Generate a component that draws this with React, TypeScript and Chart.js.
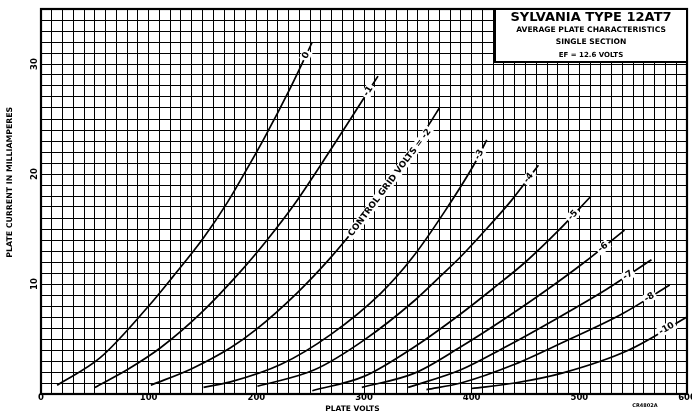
import React, { useEffect, useRef } from 'react';
import { Chart, registerables } from 'chart.js';

Chart.register(...registerables);

// ---- data (plate volts, plate current mA) ----
const xTicks = [0, 100, 200, 300, 400, 500, 600];
const yTicks = [10, 20, 30];

const gridBiasLabels = ['0', '-1', 'CONTROL GRID VOLTS = -2', '-3', '-4', '-5', '-6', '-7', '-8', '-10'];
const labelAtVolts = [246, 304, 324, 407, 453, 494, 522, 545, 565, 581];

const voltsG0 = [15, 55, 100, 122, 151, 173, 188, 207, 232, 252];
const mAG0 = [0.8, 3.3, 8.0, 10.6, 14.2, 17.4, 19.9, 23.2, 27.9, 32.0];
const voltsG1 = [50, 80, 111, 148, 185, 210, 235, 269, 294, 313];
const mAG1 = [0.6, 2.2, 4.2, 7.3, 11.1, 14.0, 17.2, 22.2, 26.0, 28.9];
const voltsG2 = [102, 140, 176, 199, 238, 269, 297, 330, 361, 370];
const mAG2 = [0.8, 2.3, 4.2, 5.8, 9.2, 12.4, 15.7, 20.0, 24.6, 26.0];
const voltsG3 = [151, 176, 223, 269, 316, 345, 375, 403, 414];
const mAG3 = [0.6, 1.1, 2.7, 5.4, 9.2, 12.4, 16.6, 21.0, 23.1];
const voltsG4 = [201, 254, 300, 347, 372, 390, 409, 437, 462];
const mAG4 = [0.7, 2.2, 4.9, 8.5, 10.8, 12.5, 14.5, 17.6, 20.8];
const voltsG5 = [252, 300, 347, 390, 420, 450, 480, 511];
const mAG5 = [0.3, 1.6, 4.3, 7.3, 9.6, 12.0, 14.8, 18.0];
const voltsG6 = [298, 347, 390, 430, 466, 505, 542];
const mAG6 = [0.6, 1.9, 4.3, 6.8, 9.2, 12.0, 14.9];
const voltsG7 = [341, 390, 430, 478, 525, 567];
const mAG7 = [0.6, 2.2, 4.2, 6.8, 9.5, 12.2];
const voltsG8 = [358, 390, 440, 487, 540, 584];
const mAG8 = [0.4, 1.0, 2.7, 4.8, 7.3, 9.9];
const voltsG10 = [400, 440, 484, 546, 600];
const mAG10 = [0.5, 1.0, 1.9, 4.0, 7.0];

const curveVolts = [voltsG0, voltsG1, voltsG2, voltsG3, voltsG4, voltsG5, voltsG6, voltsG7, voltsG8, voltsG10];
const curveMA = [mAG0, mAG1, mAG2, mAG3, mAG4, mAG5, mAG6, mAG7, mAG8, mAG10];

const titleLines = ['SYLVANIA TYPE 12AT7', 'AVERAGE PLATE CHARACTERISTICS', 'SINGLE SECTION', 'EF = 12.6 VOLTS'];
const xTitle = 'PLATE VOLTS';
const yTitle = 'PLATE CURRENT IN MILLIAMPERES';
const drawingNo = 'CR4802A';

const FONT = '"DejaVu Sans", "Liberation Sans", sans-serif';

function interp(xs: number[], ys: number[], v: number): number {
  if (v <= xs[0]) return ys[0];
  for (let i = 1; i < xs.length; i++) {
    if (v <= xs[i]) {
      const t = (v - xs[i - 1]) / (xs[i] - xs[i - 1]);
      return ys[i - 1] + t * (ys[i] - ys[i - 1]);
    }
  }
  return ys[ys.length - 1];
}

const overlayPlugin = {
  id: 'overlay',
  afterDraw(chart: any) {
    const { ctx, chartArea: a, scales } = chart;
    const xs = scales.x;
    const ys = scales.y;
    ctx.save();

    // frame
    ctx.strokeStyle = '#000';
    ctx.lineWidth = 2.2;
    ctx.strokeRect(a.left, a.top, a.right - a.left, a.bottom - a.top);

    ctx.fillStyle = '#000';
    // x tick labels
    ctx.font = `bold 8.5px ${FONT}`;
    ctx.textAlign = 'center';
    ctx.textBaseline = 'middle';
    xTicks.forEach((v) => {
      const px = xs.getPixelForValue(v);
      ctx.fillText(String(v), px, a.bottom + 4);
    });
    // y tick labels (rotated)
    yTicks.forEach((v) => {
      const py = ys.getPixelForValue(v);
      ctx.save();
      ctx.translate(a.left - 6, py);
      ctx.rotate(-Math.PI / 2);
      ctx.fillText(String(v), 0, 0);
      ctx.restore();
    });

    // axis titles
    ctx.font = `bold 7.5px ${FONT}`;
    ctx.fillText(xTitle, a.left + (a.right - a.left) * 0.482, a.bottom + 15);
    ctx.save();
    ctx.translate(10, a.top + (a.bottom - a.top) * 0.45);
    ctx.rotate(-Math.PI / 2);
    ctx.font = `bold 7.8px ${FONT}`;
    ctx.fillText(yTitle, 0, 0);
    ctx.restore();
    ctx.font = `bold 5px ${FONT}`;
    ctx.fillText(drawingNo, a.right - 42, a.bottom + 12);

    // title box
    const bx = a.right - 192;
    const by = a.top;
    const bw = 192;
    const bh = 53;
    ctx.fillStyle = '#fff';
    ctx.fillRect(bx, by, bw, bh);
    ctx.strokeStyle = '#000';
    ctx.lineWidth = 2;
    ctx.strokeRect(bx, by, bw, bh);
    ctx.fillStyle = '#000';
    const cx = bx + bw / 2;
    ctx.font = `bold 13px ${FONT}`;
    ctx.fillText(titleLines[0], cx, by + 9);
    ctx.font = `bold 7.6px ${FONT}`;
    ctx.fillText(titleLines[1], cx, by + 21);
    ctx.fillText(titleLines[2], cx, by + 33);
    ctx.font = `bold 7px ${FONT}`;
    ctx.fillText(titleLines[3], cx, by + 46);

    // curve labels
    gridBiasLabels.forEach((txt, i) => {
      const vx = curveVolts[i];
      const vy = curveMA[i];
      const v = labelAtVolts[i];
      const px = xs.getPixelForValue(v);
      const py = ys.getPixelForValue(interp(vx, vy, v));
      const p1x = xs.getPixelForValue(v - 4);
      const p1y = ys.getPixelForValue(interp(vx, vy, v - 4));
      const p2x = xs.getPixelForValue(v + 4);
      const p2y = ys.getPixelForValue(interp(vx, vy, v + 4));
      const ang = Math.atan2(p2y - p1y, p2x - p1x);
      ctx.save();
      ctx.translate(px, py);
      ctx.rotate(ang);
      ctx.font = `bold ${i === 2 ? 8.8 : 9}px ${FONT}`;
      const w = ctx.measureText(txt).width;
      ctx.fillStyle = '#fff';
      ctx.fillRect(-w / 2 - 2, -5, w + 4, 10);
      ctx.fillStyle = '#000';
      ctx.fillText(txt, 0, 0);
      ctx.restore();
    });

    ctx.restore();
  },
};

export default function App() {
  const ref = useRef<HTMLCanvasElement | null>(null);

  useEffect(() => {
    if (!ref.current) return;
    const datasets = curveVolts.map((vs, i) => ({
      label: gridBiasLabels[i],
      data: vs.map((v, k) => ({ x: v, y: curveMA[i][k] })),
      borderColor: '#000',
      borderWidth: 1.7,
      pointRadius: 0,
      fill: false,
      cubicInterpolationMode: 'monotone' as const,
    }));
    const chart = new Chart(ref.current, {
      type: 'line',
      data: { datasets },
      options: {
        animation: false,
        responsive: false,
        devicePixelRatio: 1,
        layout: { padding: { left: 41, top: 9, right: 5, bottom: 20 } },
        plugins: { legend: { display: false }, tooltip: { enabled: false } },
        scales: {
          x: {
            type: 'linear',
            min: 0,
            max: 600,
            ticks: { stepSize: 10, display: false },
            grid: { color: '#000', lineWidth: 1, drawTicks: false },
            border: { display: false },
          },
          y: {
            type: 'linear',
            min: 0,
            max: 35,
            ticks: { stepSize: 1, display: false },
            grid: { color: '#000', lineWidth: 1, drawTicks: false },
            border: { display: false },
          },
        },
      },
      plugins: [overlayPlugin],
    });
    return () => chart.destroy();
  }, []);

  return (
    <div style={{ position: 'fixed', left: 0, top: 0, width: 692, height: 414, background: '#fff' }}>
      <canvas ref={ref} width={692} height={414} />
    </div>
  );
}
